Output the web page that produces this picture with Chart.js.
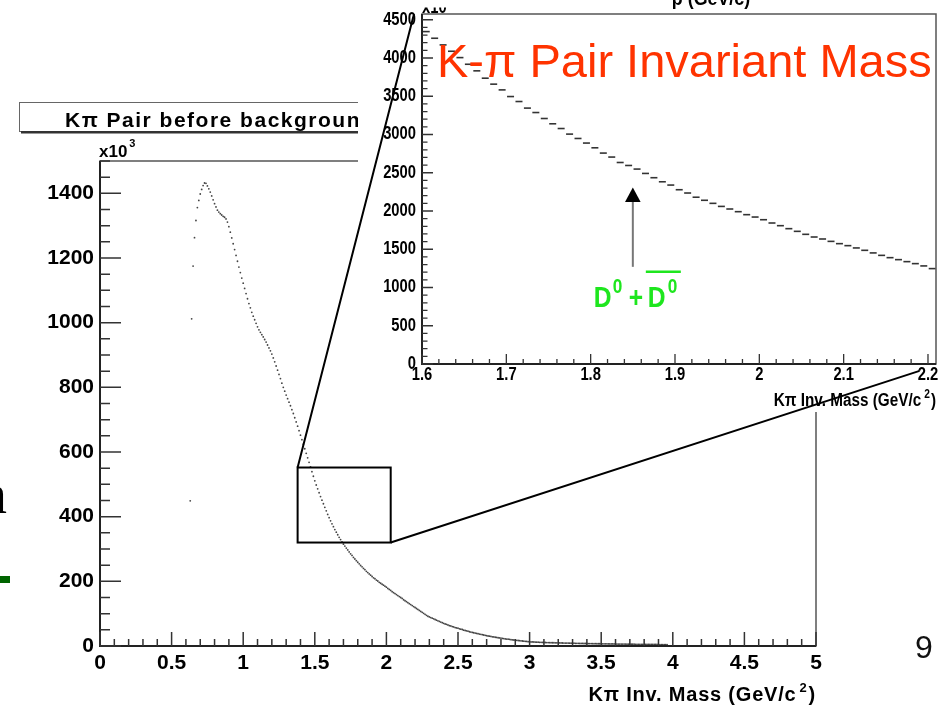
<!DOCTYPE html>
<html>
<head>
<meta charset="utf-8">
<script src="https://cdn.jsdelivr.net/npm/chart.js@4.4.1/dist/chart.umd.min.js"></script>
<style>
  html, body { margin: 0; padding: 0; background: #fff; }
  #page { position: relative; width: 951px; height: 706px; overflow: hidden; background: #fff; }
  canvas { position: absolute; }
  #main { left: 0; top: 0; }
  #inset { left: 358px; top: 0; background: #fff; }
  #links { left: 0; top: 0; pointer-events: none; }
  .slide { position: absolute; white-space: nowrap; line-height: 1; }
</style>
</head>
<body>
<div id="page">
  <canvas id="main" width="951" height="706"></canvas>
  <canvas id="inset" width="593" height="412"></canvas>
  <canvas id="links" width="951" height="706"></canvas>
  <div class="slide" style="left:-21px; top:466px; font-size:56px; font-family:'Liberation Serif', serif;">n</div>
  <div class="slide" style="left:0; top:576px; width:10px; height:7px; background:#006400;"></div>
  <div class="slide" style="left:915px; top:631px; font-size:32px; font-family:'Liberation Sans', Arial, sans-serif; color:#111;">9</div>
</div>
<script>
// main histogram: counts (x10^3) per 0.01 GeV bin, first bin at 0.63
const binWidth = 0.01;
const mainStart = 0.63;
const countsPeak = [449, 1012, 1175, 1263, 1316, 1356, 1378, 1398, 1412, 1424, 1432, 1431, 1423, 1414, 1404, 1392, 1380, 1368, 1358, 1348,
  1342, 1337, 1333, 1329, 1326, 1321, 1311, 1297, 1280, 1262, 1244, 1226, 1208, 1190, 1172, 1155, 1138];
const countsShoulder = [1122, 1106, 1090, 1074, 1059, 1046, 1032, 1020, 1009, 998, 987, 978, 970, 963, 956, 948, 940, 931, 922, 913,
  903, 891, 879, 866, 853, 840, 827, 813, 800, 788];
const countsDrop = [776, 765, 754, 743, 731, 719, 706, 693, 680, 666, 652, 638, 624, 610, 596, 582, 568, 554, 539, 525];
const countsMid = [511, 498, 486, 474, 462, 451, 440, 429, 418, 407, 397, 387, 378, 369, 360, 352, 344, 336, 329, 322,
  315, 309, 303, 297, 291, 285, 280, 274, 269, 264, 259, 254, 249, 245, 240, 236, 231, 227, 223, 219,
  215, 211, 208, 204, 201, 197, 194, 191, 188, 185];
const countsTail1 = [182, 178, 175, 172, 168, 165, 162, 159, 156, 153, 150, 147, 143, 140, 137, 134, 131, 128, 125, 122,
  119, 116, 113, 110, 107, 104, 101, 98, 95, 92, 90, 88, 86, 84, 82, 80, 78, 76, 74, 72,
  70, 68, 67, 65, 63, 62, 60, 59, 57, 56];
const countsTail2 = [55, 53, 52, 51, 49, 48, 47, 46, 44, 43, 42, 41, 40, 39, 38, 37, 36, 35, 34, 33,
  32, 31, 30.5, 29.5, 28.5, 28, 27, 26.5, 25.5, 25, 24.5, 23.5, 23, 22, 21.5, 21, 20.5, 19.5, 19, 18.5,
  18, 17.5, 17, 16.5, 16, 15.5, 15, 14.5, 14, 13.5];
const countsTail3 = [13, 12.7, 12.5, 12.3, 12.1, 11.8, 11.7, 11.4, 11.3, 11.1, 10.9, 10.9, 10.6, 10.6, 10.4, 10.3, 10.1, 10.1, 9.9, 9.8,
  9.7, 9.5, 9.5, 9.3, 9.2, 9.2, 9, 8.9, 8.8, 8.7, 8.6, 8.6, 8.4, 8.3, 8.3, 8.1, 8, 8, 7.8, 7.8,
  7.7, 7.5, 7.5, 7.4, 7.3, 7.2, 7.2, 7, 7, 6.9];
const countsTail4 = [6.9, 6.8, 6.7, 6.7, 6.6, 6.5, 6.5, 6.4, 6.3, 6.3, 6.2, 6.1, 6.1, 6, 5.9, 5.9, 5.8, 5.8, 5.7, 5.6,
  5.6, 5.5, 5.5, 5.4, 5.3, 5.3, 5.2, 5.2, 5.1, 5.1, 5, 5, 4.9, 4.9, 4.8, 4.8, 4.7, 4.7, 4.6, 4.6,
  4.5, 4.5, 4.4, 4.4, 4.3, 4.3, 4.2];
const mainCounts = [].concat(countsPeak, countsShoulder, countsDrop, countsMid, countsTail1, countsTail2, countsTail3, countsTail4);

// inset histogram: counts per 0.01 GeV bin from 1.60
const insetStart = 1.60;
const insetCounts = [4345, 4258, 4171, 4088, 4005, 3918, 3832, 3736, 3658, 3583,
  3496, 3431, 3345, 3287, 3209, 3140, 3078, 3005, 2948, 2888,
  2826, 2757, 2705, 2634, 2595, 2548, 2491, 2435, 2382, 2339,
  2278, 2235, 2180, 2140, 2100, 2060, 2026, 1991, 1952, 1921,
  1886, 1843, 1808, 1769, 1734, 1695, 1660, 1634, 1603, 1573,
  1547, 1517, 1486, 1452, 1420, 1390, 1364, 1338, 1312, 1282, 1247];
const insetYLabels = [0, 500, 1000, 1500, 2000, 2500, 3000, 3500, 4000, 4500];
const insetXLabels = ['1.6', '1.7', '1.8', '1.9', '2', '2.1', '2.2'];

// annotations (data units)
const zoomBoxX = [1.38, 2.03];
const zoomBoxY = [320, 552];
const linkEnds = [[1.5905, 4575], [2.19, -90]];
const arrowX = 1.85;
const arrowY = [1270, 2307];

const mainPoints = mainCounts.map((c, i) => ({ x: +(mainStart + i * binWidth).toFixed(2), y: c }));
const insetPoints = insetCounts.map((c, i) => ({ x: insetStart + (i + 0.5) * binWidth, y: c }));

const fmt = v => String(Math.round(v * 100) / 100);
const bold = s => 'bold ' + s + 'px "Liberation Sans", Arial, sans-serif';

function richText(ctx, parts, x, y, align, sx) {
  sx = sx || 1;
  let w = 0;
  parts.forEach(p => { ctx.font = p.font; p.w = ctx.measureText(p.t).width * sx; w += p.w + (p.gap || 0); });
  let cx = align === 'right' ? x - w : align === 'center' ? x - w / 2 : x;
  ctx.textAlign = 'left';
  ctx.textBaseline = 'alphabetic';
  parts.forEach(p => {
    cx += (p.gap || 0);
    ctx.save();
    ctx.font = p.font;
    ctx.translate(cx, y + (p.dy || 0));
    ctx.scale(sx, 1);
    ctx.fillText(p.t, 0, 0);
    ctx.restore();
    cx += p.w;
  });
}

function squash(ctx, text, x, y, font, sx, align, base) {
  ctx.save();
  ctx.font = font;
  ctx.textAlign = align;
  ctx.textBaseline = base;
  ctx.translate(x, y);
  ctx.scale(sx, 1);
  ctx.fillText(text, 0, 0);
  ctx.restore();
}

const mainDecor = {
  id: 'mainDecor',
  afterDraw(chart) {
    const { ctx, chartArea: a, scales: { x, y } } = chart;
    ctx.save();
    ctx.strokeStyle = '#555';
    ctx.lineWidth = 1.5;
    ctx.strokeRect(a.left, a.top, a.right - a.left, a.bottom - a.top);
    ctx.strokeStyle = '#222';
    ctx.lineWidth = 2;
    ctx.beginPath();
    ctx.moveTo(a.left, a.top); ctx.lineTo(a.left, a.bottom); ctx.lineTo(a.right, a.bottom);
    ctx.stroke();

    // ROOT style ticks, inside the frame
    ctx.strokeStyle = '#333';
    ctx.lineWidth = 1.5;
    ctx.beginPath();
    for (let k = 0; k * 50 <= y.max; k++) {
      const py = y.getPixelForValue(k * 50);
      const len = k % 4 === 0 ? 21 : 10;
      ctx.moveTo(a.left, py); ctx.lineTo(a.left + len, py);
    }
    for (let k = 0; k <= 50; k++) {
      const px = x.getPixelForValue(k / 10);
      const len = k % 5 === 0 ? 14 : 7;
      ctx.moveTo(px, a.bottom); ctx.lineTo(px, a.bottom - len);
    }
    ctx.stroke();

    // zoom box
    ctx.strokeStyle = '#000';
    ctx.lineWidth = 2;
    const bx0 = x.getPixelForValue(zoomBoxX[0]), bx1 = x.getPixelForValue(zoomBoxX[1]);
    const by0 = y.getPixelForValue(zoomBoxY[1]), by1 = y.getPixelForValue(zoomBoxY[0]);
    ctx.strokeRect(bx0, by0, bx1 - bx0, by1 - by0);

    // title pave
    ctx.fillStyle = '#fff';
    ctx.fillRect(19, 102, 600, 29);
    ctx.strokeStyle = '#666';
    ctx.lineWidth = 1;
    ctx.strokeRect(19.5, 102.5, 600, 29);
    ctx.fillStyle = '#333';
    ctx.fillRect(21, 131, 600, 2.5);
    ctx.fillStyle = '#000';
    ctx.letterSpacing = '1.5px';
    ctx.font = bold(21);
    ctx.textAlign = 'left';
    ctx.textBaseline = 'alphabetic';
    ctx.fillText('K\u03c0 Pair before background subtraction', 65, 127);
    ctx.letterSpacing = '0px';

    // exponent label
    richText(ctx, [{ t: 'x10', font: bold(17) }, { t: '3', font: bold(11), dy: -10, gap: 2 }], a.left - 1, 157, 'left');

    // axis title
    ctx.letterSpacing = '0.8px';
    richText(ctx, [{ t: 'K\u03c0 Inv. Mass (GeV/c', font: bold(20) }, { t: '2', font: bold(13), dy: -9, gap: 3 },
      { t: ')', font: bold(20), gap: 1 }], a.right, 701, 'right');
    ctx.letterSpacing = '0px';
    ctx.restore();
  }
};

const insetDecor = {
  id: 'insetDecor',
  afterDraw(chart) {
    const { ctx, chartArea: a, scales: { x, y } } = chart;
    const sx = 0.82;
    ctx.save();
    ctx.strokeStyle = '#555';
    ctx.lineWidth = 1.5;
    ctx.strokeRect(a.left, a.top, a.right - a.left, a.bottom - a.top);
    ctx.strokeStyle = '#222';
    ctx.lineWidth = 2;
    ctx.beginPath();
    ctx.moveTo(a.left, a.top); ctx.lineTo(a.left, a.bottom); ctx.lineTo(a.right, a.bottom);
    ctx.stroke();

    ctx.strokeStyle = '#333';
    ctx.lineWidth = 1.3;
    ctx.beginPath();
    for (let k = 0; k * 100 <= y.max; k++) {
      const py = y.getPixelForValue(k * 100);
      const len = k % 5 === 0 ? 11 : 5.5;
      ctx.moveTo(a.left, py); ctx.lineTo(a.left + len, py);
    }
    for (let k = 0; insetStart + k * 0.02 <= x.max + 1e-9; k++) {
      const px = x.getPixelForValue(insetStart + k * 0.02);
      const len = k % 5 === 0 ? 10 : 5;
      ctx.moveTo(px, a.bottom); ctx.lineTo(px, a.bottom - len);
    }
    ctx.stroke();

    // tick labels
    ctx.fillStyle = '#000';
    insetYLabels.forEach(v => squash(ctx, String(v), a.left - 6, y.getPixelForValue(v), bold(18), sx, 'right', 'middle'));
    insetXLabels.forEach(s => squash(ctx, s, x.getPixelForValue(parseFloat(s)), a.bottom + 2, bold(18), sx, 'center', 'top'));

    richText(ctx, [{ t: 'K\u03c0 Inv. Mass (GeV/c', font: bold(18) }, { t: '2', font: bold(12), dy: -8, gap: 3 },
      { t: ')', font: bold(18), gap: 1 }], a.right, 406, 'right', 0.85);

    // cut off leftovers at the top of the pasted picture
    ctx.save();
    ctx.beginPath(); ctx.rect(a.left, 7.5, 60, 6); ctx.clip();
    richText(ctx, [{ t: 'x10', font: bold(18) }, { t: '3', font: bold(12), dy: -10, gap: 2 }], a.left, 12.5, 'left', sx);
    ctx.restore();
    squash(ctx, 'p (GeV/c)', 353, 4.5, bold(21), 0.85, 'center', 'alphabetic');

    // slide title over the inset
    ctx.fillStyle = '#ff3300';
    ctx.font = '47px "Liberation Sans", Arial, sans-serif';
    ctx.textAlign = 'left';
    ctx.textBaseline = 'alphabetic';
    ctx.fillText('K-\u03c0 Pair Invariant Mass', 79, 77);

    // arrow
    const ax = x.getPixelForValue(arrowX);
    const tip = y.getPixelForValue(arrowY[1]);
    const base = y.getPixelForValue(arrowY[0]);
    ctx.strokeStyle = '#777';
    ctx.lineWidth = 2;
    ctx.beginPath(); ctx.moveTo(ax, base); ctx.lineTo(ax, tip + 14); ctx.stroke();
    ctx.fillStyle = '#000';
    ctx.beginPath(); ctx.moveTo(ax, tip); ctx.lineTo(ax - 7.8, tip + 14.5); ctx.lineTo(ax + 7.8, tip + 14.5); ctx.closePath(); ctx.fill();

    // D0 + D0bar label
    const green = '#1ee61e';
    const lx = ax - 39, ly = base + 40;
    ctx.fillStyle = green;
    squash(ctx, 'D', lx, ly, bold(30), sx, 'left', 'alphabetic');
    squash(ctx, '0', lx + 19, ly - 13.5, bold(21), sx, 'left', 'alphabetic');
    squash(ctx, '+', lx + 35, ly, bold(30), sx, 'left', 'alphabetic');
    squash(ctx, 'D', lx + 54, ly, bold(30), sx, 'left', 'alphabetic');
    squash(ctx, '0', lx + 74, ly - 13.5, bold(21), sx, 'left', 'alphabetic');
    ctx.strokeStyle = green;
    ctx.lineWidth = 2.5;
    ctx.beginPath(); ctx.moveTo(lx + 52, ly - 35); ctx.lineTo(lx + 87, ly - 35); ctx.stroke();
    ctx.restore();
  }
};

const mainChart = new Chart(document.getElementById('main'), {
  type: 'scatter',
  data: {
    datasets: [{
      data: mainPoints,
      pointRadius: 0.9,
      pointBackgroundColor: '#444',
      pointBorderWidth: 0,
      showLine: false
    }]
  },
  options: {
    responsive: false,
    animation: false,
    events: [],
    layout: { padding: { left: 0, right: 135, top: 161, bottom: 0 } },
    plugins: { legend: { display: false }, tooltip: { enabled: false } },
    scales: {
      x: {
        type: 'linear', min: 0, max: 5,
        grid: { display: false, drawTicks: false },
        border: { display: false },
        ticks: { stepSize: 0.5, padding: 5, autoSkip: false, maxRotation: 0, color: '#000',
          font: { family: 'Liberation Sans', size: 21, weight: 'bold' }, callback: v => fmt(v) },
        afterFit: s => { s.height = 60; }
      },
      y: {
        type: 'linear', min: 0, max: 1500,
        grid: { display: false, drawTicks: false },
        border: { display: false },
        ticks: { stepSize: 200, includeBounds: false, padding: 6, color: '#000',
          font: { family: 'Liberation Sans', size: 21, weight: 'bold' }, callback: v => fmt(v) },
        afterFit: s => { s.width = 100; }
      }
    }
  },
  plugins: [mainDecor]
});

const insetChart = new Chart(document.getElementById('inset'), {
  type: 'scatter',
  data: {
    datasets: [{
      data: insetPoints,
      pointStyle: 'line',
      pointRadius: 3.5,
      pointBorderColor: '#333',
      pointBorderWidth: 1.6,
      showLine: false
    }]
  },
  options: {
    responsive: false,
    animation: false,
    events: [],
    layout: { padding: { left: 64, right: 15, top: 14, bottom: 48 } },
    plugins: { legend: { display: false }, tooltip: { enabled: false } },
    scales: {
      x: { type: 'linear', display: false, min: 1.6, max: 2.2095 },
      y: { type: 'linear', display: false, min: 0, max: 4575 }
    }
  },
  plugins: [insetDecor]
});

function drawLinks() {
  const ctx = document.getElementById('links').getContext('2d');
  const mx = mainChart.scales.x, my = mainChart.scales.y;
  const ix = insetChart.scales.x, iy = insetChart.scales.y;
  const ox = 358;
  ctx.strokeStyle = '#000';
  ctx.lineWidth = 2;
  ctx.beginPath();
  ctx.moveTo(mx.getPixelForValue(zoomBoxX[0]), my.getPixelForValue(zoomBoxY[1]));
  ctx.lineTo(ox + ix.getPixelForValue(linkEnds[0][0]), iy.getPixelForValue(linkEnds[0][1]));
  ctx.moveTo(mx.getPixelForValue(zoomBoxX[1]), my.getPixelForValue(zoomBoxY[0]));
  ctx.lineTo(ox + ix.getPixelForValue(linkEnds[1][0]), iy.getPixelForValue(linkEnds[1][1]));
  ctx.stroke();
}
drawLinks();
</script>
</body>
</html>
